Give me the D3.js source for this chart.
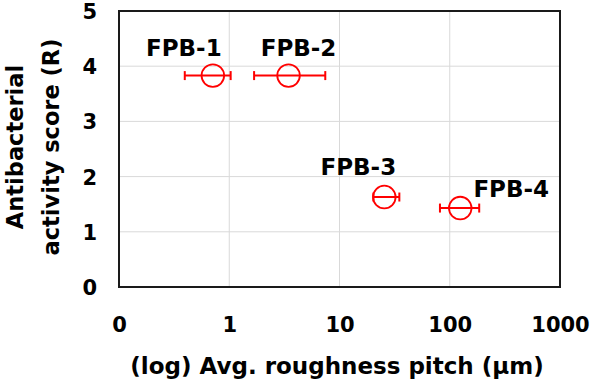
<!DOCTYPE html>
<html lang="en">
<head>
<meta charset="utf-8">
<script src="https://d3js.org/d3.v7.min.js"></script>
<style>
  body { margin: 0; background: #fff; }
  text { font-family: "DejaVu Sans", sans-serif; font-weight: bold; fill: #000; }
</style>
</head>
<body>
<div id="chart"></div>
<script>
// Data
const samples  = ["FPB-1", "FPB-2", "FPB-3", "FPB-4"];
const pitch    = [0.71, 3.45, 25.5, 124.5];   // avg. roughness pitch (µm)
const pitchLo  = [0.395, 1.68, 20.3, 81.5];   // error bar left end
const pitchHi  = [1.03, 7.43, 34.9, 185];     // error bar right end
const score    = [3.83, 3.83, 1.63, 1.43];    // antibacterial activity score
const xTicks   = [0.1, 1, 10, 100, 1000];
const xTickLabels = ["0", "1", "10", "100", "1000"];
const yTicks   = [0, 1, 2, 3, 4, 5];

// label placement relative to each point (layout only)
const labelDx = [-29, 10, -26, 51];
const labelDy = [-20, -20, -22, -11];

const W = 590, H = 384;
const margin = {top: 11, right: 30, bottom: 97, left: 119};
const width = W - margin.left - margin.right;
const height = H - margin.top - margin.bottom;

const svg = d3.select("#chart").append("svg")
    .attr("width", W).attr("height", H);
const g = svg.append("g")
    .attr("transform", "translate(" + margin.left + "," + margin.top + ")");

const x = d3.scaleLog().domain([0.1, 1000]).range([0, width]);
const y = d3.scaleLinear().domain([0, 5]).range([height, 0]);

// gridlines
g.append("g").selectAll("line")
  .data(xTicks.slice(1, -1)).enter().append("line")
  .attr("x1", d => x(d)).attr("x2", d => x(d))
  .attr("y1", 0).attr("y2", height)
  .attr("stroke", "#d9d9d9").attr("stroke-width", 1);
g.append("g").selectAll("line")
  .data(yTicks.slice(1, -1)).enter().append("line")
  .attr("x1", 0).attr("x2", width)
  .attr("y1", d => y(d)).attr("y2", d => y(d))
  .attr("stroke", "#d9d9d9").attr("stroke-width", 1);

// axes (labels only, frame drawn separately)
const xAxis = g.append("g")
  .attr("transform", "translate(0," + height + ")")
  .call(d3.axisBottom(x).tickValues(xTicks)
        .tickFormat((d, i) => xTickLabels[i]).tickSize(0).tickPadding(30));
const yAxis = g.append("g")
  .call(d3.axisLeft(y).tickValues(yTicks).tickFormat(d3.format("d"))
        .tickSize(0).tickPadding(22));
[xAxis, yAxis].forEach(a => {
  a.select(".domain").remove();
  a.selectAll("text").attr("font-size", "21px")
   .attr("font-family", "DejaVu Sans, sans-serif").attr("font-weight", "bold");
});
yAxis.selectAll("text").attr("dy", "0.36em");

// plot frame
g.append("rect")
  .attr("x", 0).attr("y", 0).attr("width", width).attr("height", height)
  .attr("fill", "none").attr("stroke", "#1a1a1a").attr("stroke-width", 2);

// error bars, markers, labels
const pts = g.append("g");
samples.forEach((s, i) => {
  const cy = y(score[i]);
  pts.append("line")
    .attr("x1", x(pitchLo[i])).attr("x2", x(pitchHi[i]))
    .attr("y1", cy).attr("y2", cy)
    .attr("stroke", "#ff0000").attr("stroke-width", 2);
  [pitchLo[i], pitchHi[i]].forEach(v => {
    pts.append("line")
      .attr("x1", x(v)).attr("x2", x(v))
      .attr("y1", cy - 4.5).attr("y2", cy + 4.5)
      .attr("stroke", "#ff0000").attr("stroke-width", 2);
  });
  pts.append("circle")
    .attr("cx", x(pitch[i])).attr("cy", cy).attr("r", 11.3)
    .attr("fill", "none").attr("stroke", "#ff0000").attr("stroke-width", 1.8);
  pts.append("text")
    .attr("x", x(pitch[i]) + labelDx[i]).attr("y", cy + labelDy[i])
    .attr("text-anchor", "middle").attr("font-size", "23px")
    .text(s);
});

// axis titles
svg.append("text")
  .attr("x", 337).attr("y", 374)
  .attr("text-anchor", "middle").attr("font-size", "23px")
  .text("(log) Avg. roughness pitch (µm)");
const yt = svg.append("text")
  .attr("transform", "translate(23,147) rotate(-90)")
  .attr("text-anchor", "middle").attr("font-size", "22.5px");
yt.append("tspan").attr("x", 0).attr("dy", 0).text("Antibacterial");
yt.append("tspan").attr("x", 0).attr("dy", "1.6em").text("activity score (R)");
</script>
</body>
</html>
